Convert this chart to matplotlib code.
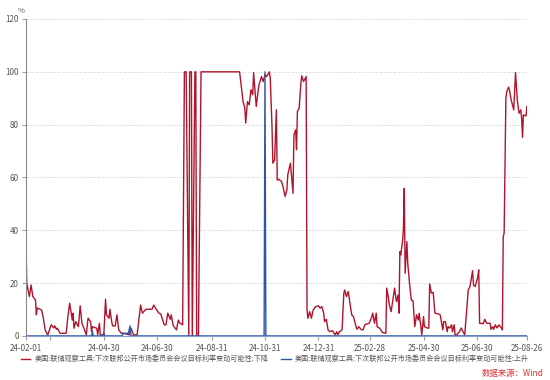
import pandas as pd
import matplotlib.pyplot as plt
import matplotlib.dates as mdates

plt.rcParams['font.family'] = ['Noto Sans CJK SC', 'DejaVu Sans']

# 下降 (red) series
down_dates = [
    '2024-02-01', '2024-02-02', '2024-02-05', '2024-02-07', '2024-02-09', '2024-02-12', '2024-02-13',
    '2024-02-14', '2024-02-19', '2024-02-21', '2024-02-23', '2024-02-26', '2024-03-01', '2024-03-04',
    '2024-03-05', '2024-03-07', '2024-03-08', '2024-03-11', '2024-03-18', '2024-03-20', '2024-03-22',
    '2024-03-25', '2024-03-26', '2024-03-27', '2024-03-29', '2024-04-01', '2024-04-03', '2024-04-05',
    '2024-04-08', '2024-04-10', '2024-04-12', '2024-04-15', '2024-04-16', '2024-04-17', '2024-04-22',
    '2024-04-23', '2024-04-25', '2024-04-26', '2024-04-30', '2024-05-02', '2024-05-03', '2024-05-06',
    '2024-05-07', '2024-05-09', '2024-05-10', '2024-05-13', '2024-05-15', '2024-05-17', '2024-05-20',
    '2024-05-22', '2024-05-29', '2024-05-31', '2024-06-03', '2024-06-07', '2024-06-11', '2024-06-13',
    '2024-06-17', '2024-06-20', '2024-06-24', '2024-06-26', '2024-06-28', '2024-07-02', '2024-07-04',
    '2024-07-08', '2024-07-10', '2024-07-12', '2024-07-15', '2024-07-16', '2024-07-18', '2024-07-19',
    '2024-07-22', '2024-07-24', '2024-07-26', '2024-07-29', '2024-07-31', '2024-08-02', '2024-08-05',
    '2024-08-06', '2024-08-08', '2024-08-09', '2024-08-12', '2024-08-13', '2024-08-14', '2024-08-16',
    '2024-08-19', '2024-10-02', '2024-10-06', '2024-10-08', '2024-10-09', '2024-10-11', '2024-10-13',
    '2024-10-15', '2024-10-17', '2024-10-18', '2024-10-21', '2024-10-24', '2024-10-26', '2024-10-27',
    '2024-10-29', '2024-10-31', '2024-11-02', '2024-11-05', '2024-11-06', '2024-11-08', '2024-11-09',
    '2024-11-11', '2024-11-13', '2024-11-14', '2024-11-16', '2024-11-19', '2024-11-21', '2024-11-23',
    '2024-11-25', '2024-11-26', '2024-11-29', '2024-11-30', '2024-12-02', '2024-12-03', '2024-12-05',
    '2024-12-06', '2024-12-07', '2024-12-09', '2024-12-11', '2024-12-12', '2024-12-14', '2024-12-17',
    '2024-12-18', '2024-12-19', '2024-12-21', '2024-12-23', '2024-12-25', '2024-12-28', '2024-12-31',
    '2025-01-02', '2025-01-04', '2025-01-06', '2025-01-07', '2025-01-09', '2025-01-11', '2025-01-13',
    '2025-01-16', '2025-01-19', '2025-01-21', '2025-01-22', '2025-01-24', '2025-01-27', '2025-01-29',
    '2025-01-30', '2025-02-01', '2025-02-03', '2025-02-05', '2025-02-07', '2025-02-09', '2025-02-12',
    '2025-02-13', '2025-02-15', '2025-02-18', '2025-02-20', '2025-02-22', '2025-02-24', '2025-02-27',
    '2025-03-02', '2025-03-03', '2025-03-05', '2025-03-07', '2025-03-08', '2025-03-11', '2025-03-14',
    '2025-03-18', '2025-03-19', '2025-03-21', '2025-03-22', '2025-03-24', '2025-03-26', '2025-03-28',
    '2025-03-30', '2025-04-01', '2025-04-02', '2025-04-03', '2025-04-04', '2025-04-06', '2025-04-07',
    '2025-04-08', '2025-04-09', '2025-04-11', '2025-04-12', '2025-04-14', '2025-04-16', '2025-04-18',
    '2025-04-20', '2025-04-22', '2025-04-24', '2025-04-25', '2025-04-27', '2025-04-28', '2025-04-30',
    '2025-05-01', '2025-05-05', '2025-05-06', '2025-05-07', '2025-05-09', '2025-05-11', '2025-05-13',
    '2025-05-17', '2025-05-19', '2025-05-22', '2025-05-23', '2025-05-25', '2025-05-27', '2025-05-28',
    '2025-05-30', '2025-06-01', '2025-06-02', '2025-06-04', '2025-06-05', '2025-06-07', '2025-06-10',
    '2025-06-12', '2025-06-14', '2025-06-16', '2025-06-18', '2025-06-20', '2025-06-22', '2025-06-23',
    '2025-06-25', '2025-06-26', '2025-06-28', '2025-06-29', '2025-07-01', '2025-07-02', '2025-07-03',
    '2025-07-07', '2025-07-09', '2025-07-11', '2025-07-15', '2025-07-16', '2025-07-18', '2025-07-19',
    '2025-07-21', '2025-07-23', '2025-07-25', '2025-07-28', '2025-07-29', '2025-07-30', '2025-07-31',
    '2025-08-02', '2025-08-03', '2025-08-05', '2025-08-06', '2025-08-08', '2025-08-11', '2025-08-13',
    '2025-08-15', '2025-08-17', '2025-08-19', '2025-08-20', '2025-08-21', '2025-08-22', '2025-08-25',
    '2025-08-26',
]
down_values = [
    38.3, 20, 14.9, 19.3, 14.9, 13.6, 8,
    10.6, 9.8, 6.7, 2.3, 0.4, 4.2, 3,
    3.8, 2.5, 2.9, 1, 1, 7.3, 12.4,
    6, 8.6, 2.9, 5.4, 3.5, 11.4, 4.8,
    2.3, 0.4, 6.7, 5.4, 1.6, 3.5, 2.9,
    0.4, 4.8, 0.4, 0.4, 13.9, 8, 6.7,
    10.1, 5.4, 3.8, 3.8, 8, 2.3, 1,
    1, 0.4, 2.9, 0.4, 0.4, 11.7, 8.6,
    10.1, 10.1, 10.1, 11.7, 10.5, 8.6, 8.3,
    4.2, 4.2, 8.6, 6.3, 8, 4.2, 3.5,
    2.3, 6, 4.8, 4.2, 100, 100, 0,
    100, 100, 0, 100, 100, 0, 0,
    100, 100, 88.7, 86.2, 80.6, 88.7, 87.5,
    93.2, 91.3, 99.7, 86.9, 95, 97, 98.2,
    96.3, 99, 98.2, 100, 97.7, 79.3, 65.4,
    66.7, 85.6, 59, 59.3, 58.4, 55.9, 52.8,
    55.3, 61, 65.4, 61.5, 54, 76.1, 78,
    70.5, 85, 86.2, 95.7, 98.5, 96.3, 98.2,
    9.8, 6.7, 9.2, 6.7, 9.8, 11.1, 11.4,
    10.5, 11.1, 8.6, 5.4, 6.3, 2.3, 1.6,
    2.0, 0.4, 1.6, 0.4, 1.6, 2.3, 16.2,
    17.4, 14.9, 16.8, 12.4, 8, 7.3, 3.5,
    2.5, 3.5, 2.3, 2.3, 4.2, 4.5, 4.8,
    7.3, 8.6, 4.8, 8.6, 3.5, 2.9, 1.3,
    1, 18.1, 14.3, 11.7, 9.2, 13.6, 18.1,
    13, 15.5, 8.6, 31.9, 30.7, 35.7, 40.2,
    55.9, 23.7, 35.7, 27.5, 20, 13.6, 13.3,
    3.5, 8, 6, 8.6, 3.5, 0.4, 7.3,
    3.5, 2.9, 3, 19.7, 16.2, 16.5, 8.6,
    8.3, 8, 2.3, 5.4, 5.4, 1.6, 3.5,
    3, 4.2, 1.6, 4.2, 0.4, 0.4, 1.6,
    3, 1.6, 0.4, 8.6, 17.4, 18.7, 20.6,
    24.7, 19.3, 18.7, 20, 22.5, 25, 4.8,
    4.6, 6.3, 4.8, 4.8, 2.5, 3.5, 2.5,
    4.2, 3, 4.2, 3, 2.3, 37.6, 38.9,
    90, 92.5, 94.2, 93.2, 89.4, 85.6, 99.7,
    89.4, 84.3, 85.6, 82.4, 75.2, 83.7, 83.3,
    86.9,
]

# 上升 (blue) series
up_dates = [
    '2024-02-01', '2024-04-16', '2024-04-17', '2024-04-18', '2024-04-29', '2024-04-30', '2024-05-01',
    '2024-05-21', '2024-05-22', '2024-05-28', '2024-05-30', '2024-05-31', '2024-10-30', '2024-10-31',
    '2024-11-01', '2025-08-26',
]
up_values = [0, 0, 1.6, 0, 0, 1.2, 0, 0, 1, 1, 3.8, 0, 0, 100, 0, 0]

tick_dates = ['2024-02-01', '2024-04-30', '2024-06-30', '2024-08-31', '2024-10-31', '2024-12-31',
              '2025-02-28', '2025-04-30', '2025-06-30', '2025-08-26']
yticks = [0, 20, 40, 60, 80, 100, 120]

red = '#b0142c'
blue = '#2f56a3'

fig = plt.figure(figsize=(5.5, 3.8), dpi=100)
ax = fig.add_axes([0.047, 0.116, 0.911, 0.834])

ax.plot(pd.to_datetime(down_dates), down_values, color=red, lw=1.0,
        label='美国:联储观察工具:下次联邦公开市场委员会会议目标利率变动可能性:下降')
ax.plot(pd.to_datetime(up_dates), up_values, color=blue, lw=1.0,
        label='美国:联储观察工具:下次联邦公开市场委员会会议目标利率变动可能性:上升')

ax.set_xlim(pd.Timestamp('2024-02-01'), pd.Timestamp('2025-08-26'))
ax.set_ylim(0, 120)
ax.set_yticks(yticks)
ax.set_xticks(pd.to_datetime(tick_dates))
ax.xaxis.set_major_formatter(mdates.DateFormatter('%y-%m-%d'))
ax.set_xticks([pd.Timestamp('2024-02-29')], minor=True)

ax.grid(axis='y', color='#dddddd', ls='--', lw=0.6)
ax.set_axisbelow(True)
for s in ['top', 'right']:
    ax.spines[s].set_visible(False)
ax.spines['left'].set_color('#888888')
ax.spines['bottom'].set_color('#8aa0c8')
ax.tick_params(axis='both', which='both', labelsize=5.8, colors='#888888', labelcolor='#555555',
               length=3, width=0.6, pad=2)
ax.tick_params(axis='x', pad=3)

fig.text(0.038, 0.972, '%', fontsize=5.5, color='#555555', ha='center', va='center')

fig.legend(loc='center', bbox_to_anchor=(0.5, 0.055), ncol=2, frameon=False, fontsize=5.1,
           handlelength=1.3, handletextpad=0.6, columnspacing=1.8, labelcolor='#555555')

fig.text(0.988, 0.018, '数据来源：Wind', fontsize=6, color='#e03030', ha='right', va='center')

fig.savefig('out.png', dpi=100)
